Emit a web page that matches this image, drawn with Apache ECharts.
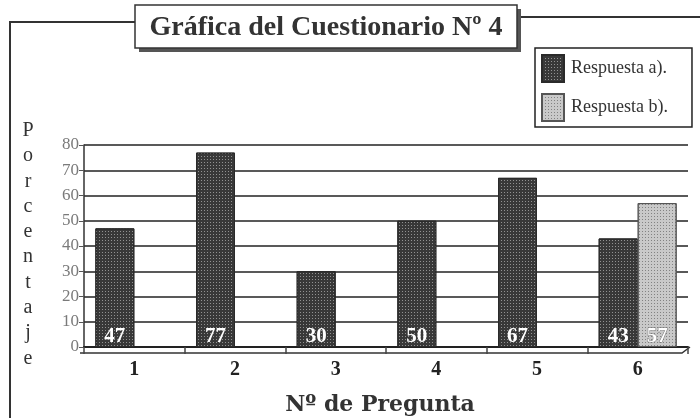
<!DOCTYPE html>
<html>
<head>
<meta charset="utf-8">
<script src="https://cdn.jsdelivr.net/npm/echarts@6/dist/echarts.min.js"></script>
<style>
  html, body { margin: 0; padding: 0; background: #fff; }
  #chart { width: 700px; height: 418px; }
</style>
</head>
<body>
<div id="chart"></div>
<script>
// datos
const preguntas = ["1", "2", "3", "4", "5", "6"];
const respuestaA = [47, 77, 30, 50, 67, 43];
const respuestaB = [null, null, null, null, null, 57];
const yTicks = [0, 80, 10]; // min, max, intervalo

const serif = "'Liberation Serif', 'DejaVu Serif', serif";

let myChart = echarts.init(document.getElementById("chart"));

let option = {
  backgroundColor: "#fff",
  animation: false,
  legend: {
    orient: "vertical",
    left: 535,
    top: 48,
    icon: "rect",
    itemWidth: 22,
    itemHeight: 27,
    itemGap: 10,
    padding: [6, 24, 5, 6],
    borderColor: "#222",
    borderWidth: 1.5,
    textStyle: { fontFamily: serif, fontSize: 18, color: "#333", padding: [10, 0, 0, 2] },
    data: ["Respuesta a).", "Respuesta b)."]
  },
  grid: { left: 84, right: 12, top: 145, bottom: 71 },
  xAxis: {
    type: "category",
    data: preguntas,
    axisLine: { lineStyle: { color: "#222", width: 2 } },
    axisTick: { show: true, length: 7, lineStyle: { color: "#444", width: 1.5 } },
    axisLabel: { fontFamily: serif, fontWeight: "bold", fontSize: 20, color: "#222", margin: 13 }
  },
  yAxis: {
    type: "value",
    min: yTicks[0],
    max: yTicks[1],
    interval: yTicks[2],
    axisLine: { show: true, lineStyle: { color: "#333", width: 1.5 } },
    axisTick: { show: true, length: 5, lineStyle: { color: "#555" } },
    axisLabel: { fontFamily: serif, fontSize: 17, color: "#7a7a7a", margin: 5 },
    splitLine: { lineStyle: { color: "#222", width: 1.5 } }
  },
  series: [
    {
      name: "Respuesta a).",
      type: "bar",
      data: respuestaA,
      barWidth: 39,
      barGap: "0%",
      itemStyle: {
        color: "#383838",
        borderColor: "#2a2a2a",
        borderWidth: 1,
        decal: {
          symbol: "rect",
          symbolSize: 1,
          color: "rgba(255,255,255,0.45)",
          dashArrayX: [1, 2],
          dashArrayY: [1, 2]
        }
      },
      label: {
        show: true,
        position: "insideBottom",
        distance: 0,
        fontFamily: serif,
        fontWeight: "bold",
        fontSize: 21,
        color: "#fff"
      }
    },
    {
      name: "Respuesta b).",
      type: "bar",
      data: respuestaB,
      barWidth: 39,
      itemStyle: {
        color: "#c9c9c9",
        borderColor: "#555",
        borderWidth: 1,
        decal: {
          symbol: "rect",
          symbolSize: 1,
          color: "rgba(60,60,60,0.5)",
          dashArrayX: [1, 2],
          dashArrayY: [1, 2]
        }
      },
      label: {
        show: true,
        position: "insideBottom",
        distance: 0,
        fontFamily: serif,
        fontWeight: "bold",
        fontSize: 21,
        color: "#fff",
        textBorderColor: "#777",
        textBorderWidth: 1
      }
    }
  ],
  graphic: [
    // marco exterior
    { type: "polyline", shape: { points: [[10, 418], [10, 22], [135, 22]] }, style: { stroke: "#333", lineWidth: 2, fill: null } },
    { type: "line", shape: { x1: 517, y1: 17, x2: 700, y2: 17 }, style: { stroke: "#333", lineWidth: 2 } },
    // caja del titulo con sombra
    { type: "rect", shape: { x: 139, y: 9, width: 382, height: 43 }, style: { fill: "#555" } },
    { type: "rect", shape: { x: 135, y: 5, width: 382, height: 43 }, style: { fill: "#fff", stroke: "#333", lineWidth: 1.5 } },
    {
      type: "text", x: 326, y: 28,
      style: { text: "Gráfica del Cuestionario Nº 4", fontFamily: serif, fontWeight: "bold", fontSize: 28, fill: "#333", align: "center", verticalAlign: "middle" }
    },
    // titulo eje y
    {
      type: "text", x: 28, y: 118,
      style: { text: "P\no\nr\nc\ne\nn\nt\na\nj\ne", fontFamily: serif, fontSize: 20, fill: "#333", align: "center", lineHeight: 25.3 }
    },
    // titulo eje x
    {
      type: "text", x: 380, y: 405,
      style: { text: "Nº de Pregunta", fontFamily: "'DejaVu Serif', serif", fontWeight: "bold", fontSize: 22, fill: "#333", align: "center", verticalAlign: "middle" }
    },
    // suelo 3d
    { type: "polyline", shape: { points: [[80, 353], [682, 353], [690, 347]] }, style: { stroke: "#333", lineWidth: 1.5, fill: null } }
  ]
};

myChart.setOption(option);
</script>
</body>
</html>
